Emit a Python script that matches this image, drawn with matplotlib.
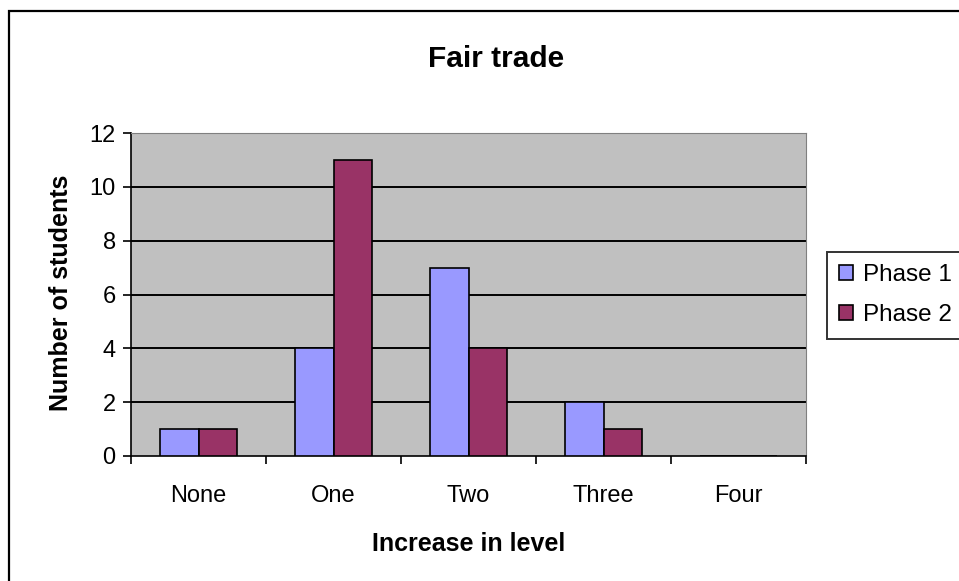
import matplotlib.pyplot as plt
from matplotlib.patches import Rectangle
import numpy as np

plt.rcParams['font.family'] = ['Liberation Sans', 'DejaVu Sans']

categories = ['None', 'One', 'Two', 'Three', 'Four']
phase1 = [1, 4, 7, 2, 0]
phase2 = [1, 11, 4, 1, 0]
series_names = ['Phase 1', 'Phase 2']
y_ticks = [0, 2, 4, 6, 8, 10, 12]

W, H = 959, 581
fig = plt.figure(figsize=(W / 100, H / 100), dpi=100)

# outer chart border (runs off the right and bottom edges)
fig.patches.append(Rectangle((9 / W, -0.05), 1.1, 1 - 11 / H + 0.05,
                             transform=fig.transFigure, fill=False,
                             edgecolor='black', linewidth=1.6, zorder=0))

ax = fig.add_axes([131 / W, (H - 456) / H, (806 - 131) / W, (456 - 133) / H])
ax.set_facecolor('#C0C0C0')

x = np.arange(len(categories))
bw = 1 / 3.5
ax.bar(x - bw / 2, phase1, bw, color='#9999FF', edgecolor='black', linewidth=1.2,
       label=series_names[0], zorder=3)
ax.bar(x + bw / 2, phase2, bw, color='#993366', edgecolor='black', linewidth=1.2,
       label=series_names[1], zorder=3)

ax.set_xlim(-0.5, len(categories) - 0.5)
ax.set_ylim(0, 12)
ax.set_yticks(y_ticks)
ax.set_xticks(x)
ax.set_xticklabels(categories)
ax.set_xticks(np.arange(-0.5, len(categories)), minor=True)
ax.tick_params(axis='x', which='major', length=0, pad=21, labelsize=17)
ax.tick_params(axis='x', which='minor', length=6, width=1.2, direction='out')
ax.tick_params(axis='y', length=6, width=1.2, direction='out', pad=5, labelsize=17)

for v in y_ticks[1:-1]:
    ax.axhline(v, color='black', linewidth=1.4, zorder=1)

ax.spines['left'].set_linewidth(1.2)
ax.spines['bottom'].set_linewidth(1.2)
ax.spines['top'].set_color('#808080')
ax.spines['right'].set_color('#808080')

ax.set_xlabel('Increase in level', fontsize=18, fontweight='bold')
ax.set_ylabel('Number of students', fontsize=18, fontweight='bold')
ax.xaxis.set_label_coords(0.5, -0.235)
ax.yaxis.set_label_coords(-0.086, 0.505)
fig.text(496 / W, 1 - 67 / H, 'Fair trade', ha='center', va='baseline',
         fontsize=21.5, fontweight='bold')

leg = fig.legend(loc='upper left', bbox_to_anchor=(827 / W, 1 - 252 / H),
                 fontsize=17.5, frameon=True, fancybox=False, handlelength=0.55,
                 handleheight=0.55, handletextpad=0.45, borderpad=0.5,
                 labelspacing=0.75, borderaxespad=0)
leg.get_frame().set_edgecolor('black')
leg.get_frame().set_linewidth(1.4)

fig.savefig('out.png', dpi=100)
